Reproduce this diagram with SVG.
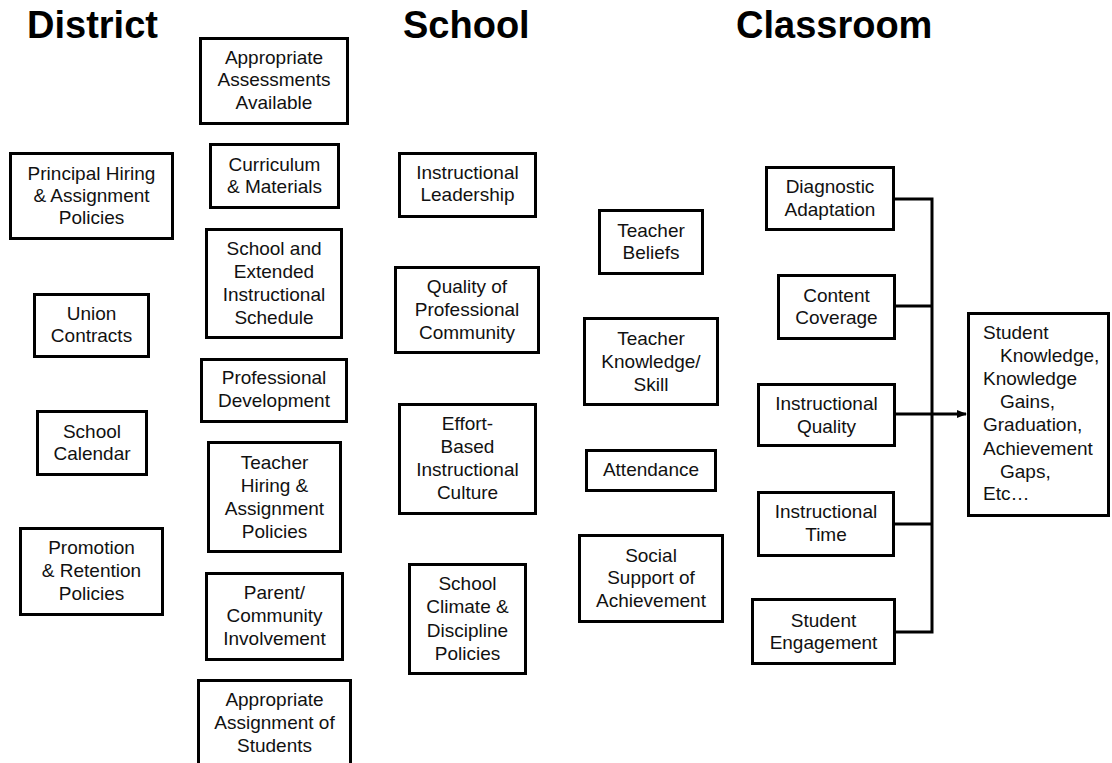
<svg xmlns="http://www.w3.org/2000/svg" width="1112" height="763" viewBox="0 0 1112 763">
<style>
.b{fill:#fff;stroke:#000;stroke-width:3}
.t{font-family:"Liberation Sans",Arial,sans-serif;font-size:19px;fill:#111;text-anchor:middle}
.l{font-family:"Liberation Sans",Arial,sans-serif;font-size:19px;fill:#111}
.h{font-family:"Liberation Sans",Arial,sans-serif;font-size:38px;font-weight:bold;fill:#000}
.c{fill:none;stroke:#000;stroke-width:3}
</style>
<defs>
<marker id="ah" markerWidth="10" markerHeight="8" refX="9" refY="4" orient="auto" markerUnits="userSpaceOnUse">
<path d="M0,0 L10,4 L0,8 Z" fill="#000"/>
</marker>
</defs>
<rect width="1112" height="763" fill="#fff"/>
<text class="h" x="27" y="38">District</text>
<text class="h" x="403" y="38">School</text>
<text class="h" x="736" y="38">Classroom</text>

<g id="connectors">
<path class="c" d="M895,199 H932 V632 H895"/>
<path class="c" d="M895,306 H932"/>
<path class="c" d="M895,524 H932"/>
<path class="c" d="M896,414 H966" marker-end="url(#ah)"/>
</g>

<g id="n-assess"><rect class="b" x="200.5" y="38.5" width="147" height="85"/>
<text class="t" x="274" y="64">Appropriate</text><text class="t" x="274" y="86">Assessments</text><text class="t" x="274" y="109">Available</text></g>
<g id="n-principal"><rect class="b" x="10.5" y="153.5" width="162" height="85"/>
<text class="t" x="91.5" y="180">Principal Hiring</text><text class="t" x="91.5" y="202">&amp; Assignment</text><text class="t" x="91.5" y="224">Policies</text></g>
<g id="n-curriculum"><rect class="b" x="210.5" y="144.5" width="128" height="63"/>
<text class="t" x="274.5" y="171">Curriculum</text><text class="t" x="274.5" y="193">&amp; Materials</text></g>
<g id="n-schedule"><rect class="b" x="206.5" y="229.5" width="135" height="108"/>
<text class="t" x="274" y="255">School and</text><text class="t" x="274" y="278">Extended</text><text class="t" x="274" y="301">Instructional</text><text class="t" x="274" y="324">Schedule</text></g>
<g id="n-union"><rect class="b" x="34.5" y="294.5" width="114" height="62"/>
<text class="t" x="91.5" y="320">Union</text><text class="t" x="91.5" y="342">Contracts</text></g>
<g id="n-profdev"><rect class="b" x="201.5" y="359.5" width="145" height="62"/>
<text class="t" x="274" y="384">Professional</text><text class="t" x="274" y="407">Development</text></g>
<g id="n-calendar"><rect class="b" x="37.5" y="411.5" width="109" height="63"/>
<text class="t" x="92" y="438">School</text><text class="t" x="92" y="460">Calendar</text></g>
<g id="n-promotion"><rect class="b" x="20.5" y="528.5" width="142" height="86"/>
<text class="t" x="91.5" y="554">Promotion</text><text class="t" x="91.5" y="577">&amp; Retention</text><text class="t" x="91.5" y="600">Policies</text></g>
<g id="n-teacherhiring"><rect class="b" x="208.5" y="442.5" width="132" height="109"/>
<text class="t" x="274.5" y="469">Teacher</text><text class="t" x="274.5" y="492">Hiring &amp;</text><text class="t" x="274.5" y="515">Assignment</text><text class="t" x="274.5" y="538">Policies</text></g>
<g id="n-parent"><rect class="b" x="206.5" y="573.5" width="136" height="86"/>
<text class="t" x="274.5" y="599">Parent/</text><text class="t" x="274.5" y="622">Community</text><text class="t" x="274.5" y="645">Involvement</text></g>
<g id="n-assignstudents"><rect class="b" x="198.5" y="680.5" width="152" height="95"/>
<text class="t" x="274.5" y="706">Appropriate</text><text class="t" x="274.5" y="729">Assignment of</text><text class="t" x="274.5" y="752">Students</text></g>

<g id="n-leadership"><rect class="b" x="399.5" y="153.5" width="136" height="63"/>
<text class="t" x="467.5" y="179">Instructional</text><text class="t" x="467.5" y="201">Leadership</text></g>
<g id="n-quality"><rect class="b" x="395.5" y="267.5" width="143" height="85"/>
<text class="t" x="467" y="293">Quality of</text><text class="t" x="467" y="316">Professional</text><text class="t" x="467" y="339">Community</text></g>
<g id="n-effort"><rect class="b" x="399.5" y="404.5" width="136" height="109"/>
<text class="t" x="467.5" y="430">Effort-</text><text class="t" x="467.5" y="453">Based</text><text class="t" x="467.5" y="476">Instructional</text><text class="t" x="467.5" y="499">Culture</text></g>
<g id="n-climate"><rect class="b" x="409.5" y="564.5" width="116" height="109"/>
<text class="t" x="467.5" y="590">School</text><text class="t" x="467.5" y="613">Climate &amp;</text><text class="t" x="467.5" y="637">Discipline</text><text class="t" x="467.5" y="660">Policies</text></g>

<g id="n-beliefs"><rect class="b" x="599.5" y="210.5" width="103" height="63"/>
<text class="t" x="651" y="237">Teacher</text><text class="t" x="651" y="259">Beliefs</text></g>
<g id="n-knowledge"><rect class="b" x="584.5" y="318.5" width="133" height="86"/>
<text class="t" x="651" y="345">Teacher</text><text class="t" x="651" y="368">Knowledge/</text><text class="t" x="651" y="391">Skill</text></g>
<g id="n-attendance"><rect class="b" x="586.5" y="450.5" width="129" height="40"/>
<text class="t" x="651" y="476">Attendance</text></g>
<g id="n-social"><rect class="b" x="579.5" y="535.5" width="143" height="86"/>
<text class="t" x="651" y="562">Social</text><text class="t" x="651" y="584">Support of</text><text class="t" x="651" y="607">Achievement</text></g>

<g id="n-diagnostic"><rect class="b" x="766.5" y="167.5" width="127" height="62"/>
<text class="t" x="830" y="193">Diagnostic</text><text class="t" x="830" y="216">Adaptation</text></g>
<g id="n-content"><rect class="b" x="778.5" y="275.5" width="116" height="63"/>
<text class="t" x="836.5" y="302">Content</text><text class="t" x="836.5" y="324">Coverage</text></g>
<g id="n-instquality"><rect class="b" x="758.5" y="384.5" width="136" height="61"/>
<text class="t" x="826.5" y="410">Instructional</text><text class="t" x="826.5" y="433">Quality</text></g>
<g id="n-insttime"><rect class="b" x="758.5" y="492.5" width="135" height="63"/>
<text class="t" x="826" y="518">Instructional</text><text class="t" x="826" y="541">Time</text></g>
<g id="n-engagement"><rect class="b" x="752.5" y="599.5" width="142" height="64"/>
<text class="t" x="823.5" y="627">Student</text><text class="t" x="823.5" y="649">Engagement</text></g>

<g id="n-outcomes"><rect class="b" x="968.5" y="313.5" width="140" height="202"/>
<text class="l" x="983" y="339">Student</text>
<text class="l" x="1000" y="362">Knowledge,</text>
<text class="l" x="983" y="385">Knowledge</text>
<text class="l" x="1000" y="408">Gains,</text>
<text class="l" x="983" y="431">Graduation,</text>
<text class="l" x="983" y="455">Achievement</text>
<text class="l" x="1000" y="478">Gaps,</text>
<text class="l" x="983" y="500">Etc…</text></g>
</svg>
